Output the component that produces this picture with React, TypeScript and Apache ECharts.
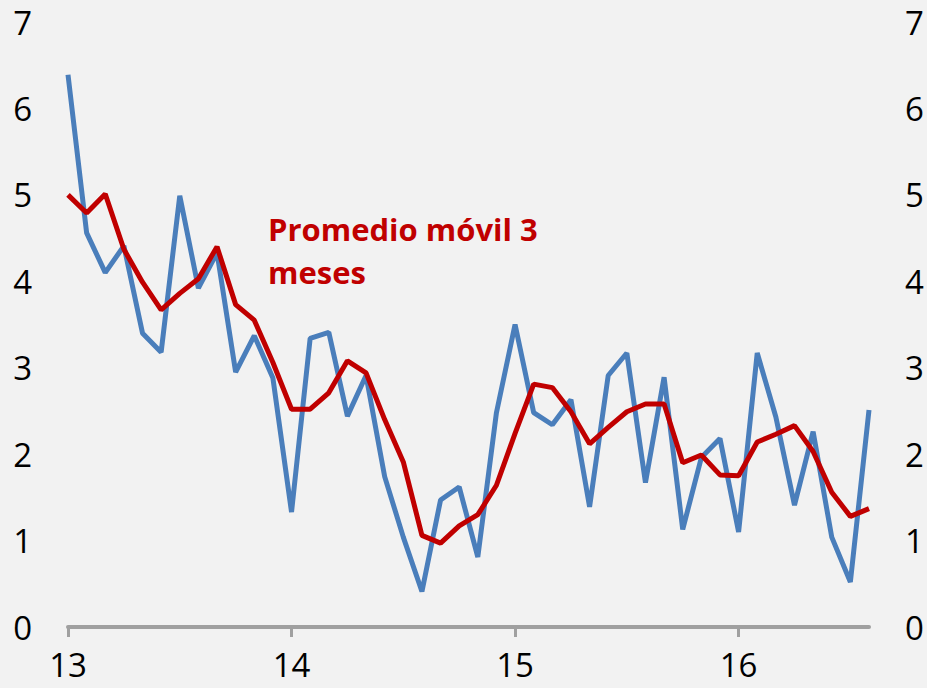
import React, { useEffect, useRef } from "react";
import * as echarts from "echarts";

const monthNames = ["ene", "feb", "mar", "abr", "may", "jun", "jul", "ago", "sep", "oct", "nov", "dic"];
const years = ["13", "14", "15", "16"];
const categories: string[] = [];
years.forEach((y) => monthNames.forEach((m) => categories.push(`${m}-${y}`)));
const months = categories.slice(0, 44);

const monthly = [
  6.39, 4.56, 4.1, 4.41, 3.4, 3.18, 4.99, 3.92, 4.33, 2.95, 3.37, 2.88,
  1.33, 3.34, 3.41, 2.44, 2.91, 1.74, 1.04, 0.41, 1.47, 1.62, 0.81, 2.48,
  3.5, 2.48, 2.34, 2.63, 1.39, 2.91, 3.17, 1.67, 2.89, 1.13, 1.96, 2.18,
  1.1, 3.17, 2.43, 1.41, 2.26, 1.04, 0.52, 2.51,
];
const movingAvg3 = [
  5.0, 4.79, 5.01, 4.37, 3.99, 3.67, 3.86, 4.03, 4.4, 3.73, 3.55, 3.06,
  2.52, 2.52, 2.71, 3.08, 2.94, 2.4, 1.91, 1.06, 0.97, 1.17, 1.3, 1.64,
  2.24, 2.81, 2.77, 2.49, 2.12, 2.31, 2.49, 2.58, 2.58, 1.9, 1.99, 1.76,
  1.75, 2.14, 2.23, 2.33, 2.03, 1.56, 1.28, 1.37,
];
const annotationLines = ["Promedio móvil 3", "meses"];

const labelFont = "'Open Sans', sans-serif";

export default function App() {
  const ref = useRef<HTMLDivElement>(null);
  useEffect(() => {
    if (!ref.current) return;
    const chart = echarts.init(ref.current, undefined, { renderer: "svg" });
    const yLabel = {
      fontSize: 33,
      color: "#000",
      fontFamily: labelFont,
      margin: 36,
    };
    chart.setOption({
      animation: false,
      backgroundColor: "#F2F2F2",
      grid: { left: 68, right: 58, top: 22, bottom: 61, containLabel: false },
      xAxis: {
        type: "category",
        data: months,
        boundaryGap: false,
        axisLine: { show: true, lineStyle: { color: "#A0A0A0", width: 4 } },
        axisTick: { show: true, interval: 11, length: 10, lineStyle: { color: "#A0A0A0", width: 3 } },
        axisLabel: {
          interval: 11,
          margin: 21,
          fontSize: 33,
          color: "#000",
          fontFamily: labelFont,
          formatter: (v: string) => v.split("-")[1],
        },
        splitLine: { show: false },
      },
      yAxis: [
        {
          type: "value",
          min: 0,
          max: 7,
          interval: 1,
          position: "left",
          axisLine: { show: false },
          axisTick: { show: false },
          splitLine: { show: false },
          axisLabel: yLabel,
        },
        {
          type: "value",
          min: 0,
          max: 7,
          interval: 1,
          position: "right",
          axisLine: { show: false },
          axisTick: { show: false },
          splitLine: { show: false },
          axisLabel: yLabel,
        },
      ],
      series: [
        {
          type: "line",
          data: monthly,
          yAxisIndex: 0,
          symbol: "none",
          lineStyle: { color: "#4A7EBB", width: 5 },
          z: 2,
        },
        {
          type: "line",
          data: movingAvg3,
          yAxisIndex: 0,
          symbol: "none",
          lineStyle: { color: "#C00000", width: 5 },
          z: 3,
        },
      ],
      graphic: annotationLines.map((t, i) => ({
        type: "text",
        x: 268,
        y: 229 + i * 43,
        style: {
          text: t,
          fill: "#C00000",
          font: "bold 31px 'Open Sans', sans-serif",
          textVerticalAlign: "middle",
        },
      })),
    });
    return () => chart.dispose();
  }, []);
  return (
    <div
      ref={ref}
      style={{ position: "fixed", left: 0, top: 0, width: 927, height: 688, background: "#F2F2F2" }}
    />
  );
}
